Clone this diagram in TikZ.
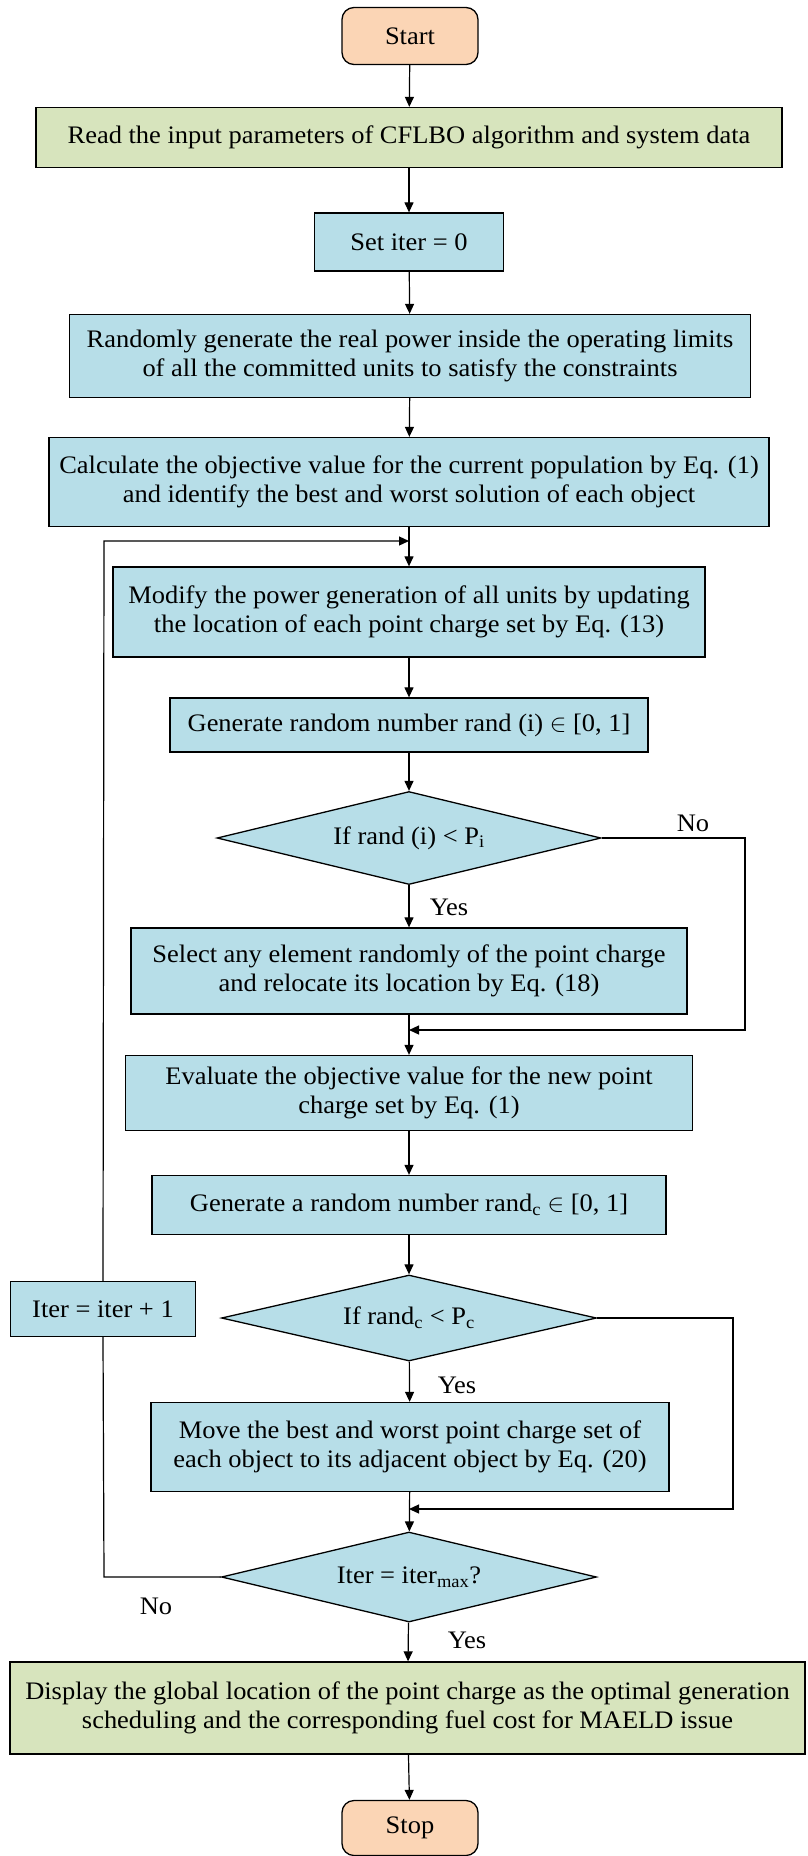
\documentclass[tikz,border=0pt]{standalone}
\usepackage{fontspec}
\setmainfont{Liberation Serif}[FakeStretch=1.05]
\usetikzlibrary{shapes.geometric,arrows.meta}
\definecolor{peachf}{RGB}{251,213,181}
\definecolor{greenf}{RGB}{215,228,189}
\definecolor{bluef}{RGB}{183,222,232}
\begin{document}
\begin{tikzpicture}[x=1pt,y=-1pt,font=\fontsize{25.2}{29.5}\selectfont,
  box/.style={draw,line width=1.3pt,fill=bluef,rectangle,inner sep=0pt,align=center},
  gbox/.style={box,fill=greenf},
  term/.style={box,fill=peachf,rounded corners=12pt},
  dia/.style={draw,line width=1.3pt,fill=bluef,diamond,aspect=4,inner sep=0pt},
  lbl/.style={inner sep=0pt},
  arr/.style={line width=1.2pt,-{Triangle[length=10pt,width=9pt]}},
  ln/.style={line width=1.2pt}]
\useasboundingbox (0,0) rectangle (808,1856);
% nodes
\node[term,minimum width=136pt,minimum height=57pt] (start) at (410,36) {Start};
\node[gbox,minimum width=746pt,minimum height=60pt] (read) at (409,137.5) {Read the input parameters of CFLBO algorithm and system data};
\node[box,minimum width=189pt,minimum height=58pt] (set) at (409,242) {Set iter = 0};
\node[box,minimum width=681pt,minimum height=83pt] (rand) at (410,356) {Randomly generate the real power inside the operating limits\\of all the committed units to satisfy the constraints};
\node[box,minimum width=720pt,minimum height=89pt] (calc) at (409,482) {Calculate the objective value for the current population by Eq. (1)\\and identify the best and worst solution of each object};
\node[box,minimum width=592pt,minimum height=90pt] (mod) at (409,612) {Modify the power generation of all units by updating\\the location of each point charge set by Eq. (13)};
\node[box,minimum width=478pt,minimum height=54pt] (gen) at (409,725) {Generate random number rand (i) $\in$ [0, 1]};
\node[dia,minimum width=384pt,minimum height=93pt] (d1) at (409,838) {If rand (i) < P\textsubscript{i}};
\node[box,minimum width=556pt,minimum height=86pt] (sel) at (409,971) {Select any element randomly of the point charge\\and relocate its location by Eq. (18)};
\node[box,minimum width=567pt,minimum height=75pt] (eval) at (409,1093) {Evaluate the objective value for the new point\\charge set by Eq. (1)};
\node[box,minimum width=514pt,minimum height=59pt] (genc) at (409,1205) {Generate a random number rand\textsubscript{c} $\in$ [0, 1]};
\node[dia,minimum width=375pt,minimum height=86pt] (d2) at (409,1318) {If rand\textsubscript{c} < P\textsubscript{c}};
\node[box,minimum width=185pt,minimum height=55pt] (iter) at (103,1309) {Iter = iter + 1};
\node[box,minimum width=518pt,minimum height=89pt] (move) at (410,1447) {Move the best and worst point charge set of\\each object to its adjacent object by Eq. (20)};
\node[dia,minimum width=375pt,minimum height=90pt] (d3) at (409,1577) {Iter = iter\textsubscript{max}?};
\node[gbox,minimum width=795pt,minimum height=92pt] (disp) at (407.5,1708) {Display the global location of the point charge as the optimal generation\\scheduling and the corresponding fuel cost for MAELD issue};
\node[term,minimum width=136pt,minimum height=55pt] (stop) at (410,1828) {Stop};
% labels
\node[lbl] (no1) at (693,823) {No};
\node[lbl] (yes1) at (449,907) {Yes};
\node[lbl] (yes2) at (457,1385) {Yes};
\node[lbl] (no3) at (156,1606) {No};
\node[lbl] (yes3) at (467,1640) {Yes};
% merge coordinates
\coordinate (m0) at (409,541);
\coordinate (m1) at (409,1030);
\coordinate (m2) at (409,1509);
% connectors
\draw[arr] (start) -- (read);
\draw[arr] (read) -- (set);
\draw[arr] (set) -- (rand);
\draw[arr] (rand) -- (calc);
\draw[arr] (calc) -- (mod);
\draw[arr] (mod) -- (gen);
\draw[arr] (gen) -- (d1);
\draw[arr] (d1) -- (sel);
\draw[arr] (sel) -- (eval);
\draw[arr] (eval) -- (genc);
\draw[arr] (genc) -- (d2);
\draw[arr] (d2) -- (move);
\draw[arr] (move) -- (d3);
\draw[arr] (d3) -- (disp);
\draw[arr] (disp) -- (stop);
\draw[arr] (d1.east) -- (745,838) -- (745,1030) -- (m1);
\draw[arr] (d2.east) -- (733,1318) -- (733,1509) -- (m2);
\draw[ln] (d3.west) -- (104,1577) -- (iter.south);
\draw[arr] (iter.north) -- (104,541) -- (m0);
\end{tikzpicture}
\end{document}
